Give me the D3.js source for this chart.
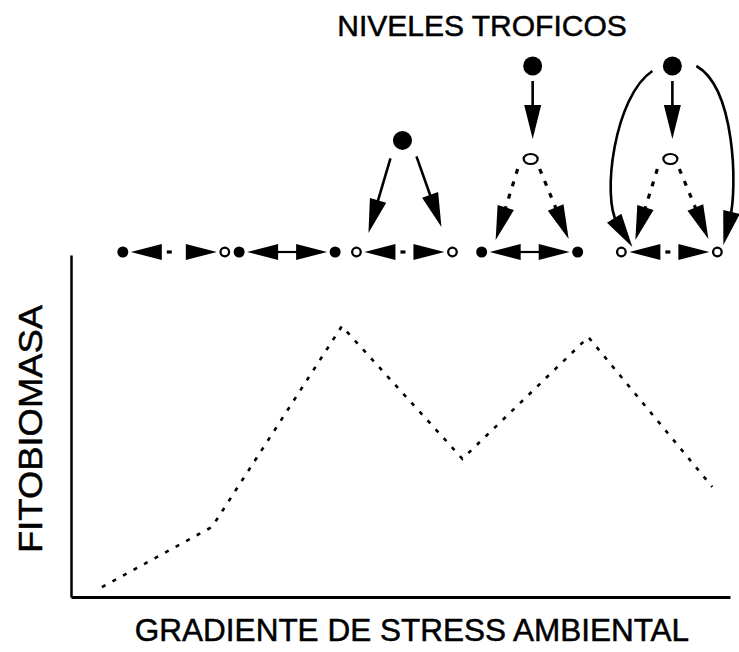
<!DOCTYPE html>
<html>
<head>
<meta charset="utf-8">
<script src="https://cdn.jsdelivr.net/npm/d3@7/dist/d3.min.js"></script>
<style>
  html, body { margin: 0; padding: 0; background: #fff; }
  text { font-family: "Liberation Sans", Arial, sans-serif; fill: #000; stroke: #000; stroke-width: 0.5px; }
</style>
</head>
<body>
<div id="chart"></div>
<script>
// ---------------- data ----------------
// curva de fitobiomasa a lo largo del gradiente (0-100 en ambos ejes)
const gradientX = [4.7, 21.4, 41.1, 59.4, 78.5, 97.3];
const biomassY  = [2.9, 20.5, 79.2, 40.4, 76.0, 32.2];

// etapas de la red trofica sobre el grafico
const stageX        = [15.6, 32.8, 50.6, 69.6, 90.8];
const plantLeft     = ['filled', 'filled', 'open', 'filled', 'open'];
const plantRight    = ['open', 'filled', 'open', 'filled', 'open'];
const plantLink     = ['weak', 'strong', 'weak', 'strong', 'weak'];
const trophicLevels = [1, 1, 2, 3, 3];

const titleText  = 'NIVELES TROFICOS';
const xAxisLabel = 'GRADIENTE DE STRESS AMBIENTAL';
const yAxisLabel = 'FITOBIOMASA';

// ---------------- layout ----------------
const W = 739, H = 652;
const svg = d3.select('#chart').append('svg')
  .attr('width', W).attr('height', H);

const x = d3.scaleLinear().domain([0, 100]).range([71, 730]);
const y = d3.scaleLinear().domain([0, 100]).range([597, 255]);
const levelY = d3.scaleLinear().domain([1, 3]).range([252, 66]);

// ejes (solo lineas, sin marcas)
const axisX = d3.axisBottom(x).tickValues([]).tickSizeOuter(0);
const axisY = d3.axisLeft(y).tickValues([]).tickSizeOuter(0);
svg.append('g').attr('transform', `translate(0,${y(0)})`).call(axisX)
  .select('.domain').attr('stroke', '#000').attr('stroke-width', 3);
svg.append('g').attr('transform', `translate(${x(0)},0)`).call(axisY)
  .select('.domain').attr('stroke', '#000').attr('stroke-width', 2.5);

// curva punteada
const line = d3.line().x(d => x(d[0])).y(d => y(d[1]));
svg.append('path')
  .datum(d3.zip(gradientX, biomassY))
  .attr('d', line)
  .attr('fill', 'none')
  .attr('stroke', '#000')
  .attr('stroke-width', 2.6)
  .attr('stroke-dasharray', '4 8');

// textos
svg.append('text').attr('x', 482).attr('y', 36)
  .attr('text-anchor', 'middle').style('font-size', '30px').text(titleText);
svg.append('text').attr('x', 412).attr('y', 641)
  .attr('text-anchor', 'middle').style('font-size', '31.5px').text(xAxisLabel);
svg.append('text')
  .attr('transform', 'translate(42,429) rotate(-90)')
  .attr('text-anchor', 'middle').style('font-size', '34px')
  .attr('textLength', 248).attr('lengthAdjust', 'spacingAndGlyphs')
  .text(yAxisLabel);

// ---------------- red trofica ----------------
const g = svg.append('g');

function head(tx, ty, ang, len = 32, hw = 8) {
  // triangulo con la punta en (tx,ty) apuntando en direccion ang
  const bx = tx - Math.cos(ang) * len, by = ty - Math.sin(ang) * len;
  const px = -Math.sin(ang) * hw, py = Math.cos(ang) * hw;
  g.append('path')
    .attr('d', `M${tx},${ty}L${bx + px},${by + py}L${bx - px},${by - py}Z`)
    .attr('fill', '#000');
}

function arrow(x1, y1, x2, y2, dashed) {
  const ang = Math.atan2(y2 - y1, x2 - x1);
  const len = 34;
  g.append('line')
    .attr('x1', x1).attr('y1', y1)
    .attr('x2', x2 - Math.cos(ang) * (len - 4)).attr('y2', y2 - Math.sin(ang) * (len - 4))
    .attr('stroke', '#000')
    .attr('stroke-width', dashed ? 3.2 : 2.6)
    .attr('stroke-dasharray', dashed ? '5 8' : null);
  head(x2, y2, ang, len, 8.5);
}

function node(cx, cy, type, r) {
  g.append('circle')
    .attr('cx', cx).attr('cy', cy).attr('r', r)
    .attr('fill', type === 'filled' ? '#000' : '#fff')
    .attr('stroke', '#000')
    .attr('stroke-width', type === 'filled' ? 0 : 2.3);
}

const half = 48;
stageX.forEach((sx, i) => {
  const cx = x(sx);
  const by = levelY(1);
  const w = i === 0 ? half + 3 : half;
  const lx = cx - w, rx = cx + w;

  // enlace horizontal entre productores
  head(lx + 8, by, Math.PI, 31, 8);
  head(rx - 8, by, 0, 31, 8);
  if (plantLink[i] === 'strong') {
    g.append('line')
      .attr('x1', lx + 36).attr('x2', rx - 36).attr('y1', by).attr('y2', by)
      .attr('stroke', '#000').attr('stroke-width', 2.2);
  } else {
    g.append('line')
      .attr('x1', lx + 44).attr('x2', lx + 49).attr('y1', by).attr('y2', by)
      .attr('stroke', '#000').attr('stroke-width', 3.2);
  }
  node(lx, by, plantLeft[i], plantLeft[i] === 'filled' ? 5.5 : 4.3);
  node(rx, by, plantRight[i], plantRight[i] === 'filled' ? 5.5 : 4.3);

  const lv = trophicLevels[i];
  if (lv === 2) {
    // depredador directo sobre productores
    const ty = levelY(2.2);
    arrow(cx - 14, ty + 18, lx + 12, by - 19, false);
    arrow(cx + 12, ty + 16, rx - 11, by - 25, false);
    node(cx - 2, ty, 'filled', 9.5);
  }
  if (lv === 3) {
    const ty = levelY(3), my = levelY(2);
    arrow(cx + 3, ty + 15, cx + 3, my - 20, false);
    arrow(cx - 12, my + 10, lx + 14, by - 12, true);
    arrow(cx + 10, my + 10, rx - 9, by - 13, true);
    g.append('ellipse')
      .attr('cx', cx + 1).attr('cy', my).attr('rx', 7).attr('ry', 5)
      .attr('fill', '#fff').attr('stroke', '#000').attr('stroke-width', 2.2);
    if (i === 4) {
      // omnivoria: el depredador tope come productores
      const lc = [[cx - 17, ty + 5], [cx - 55, ty + 30], [cx - 68, ty + 132], [lx + 11, by - 5]];
      const rc = [[cx + 27, ty], [cx + 66, ty + 22], [cx + 68, ty + 122], [rx + 6, by - 7]];
      [lc, rc].forEach(c => {
        const ang = Math.atan2(c[3][1] - c[2][1], c[3][0] - c[2][0]);
        const p = d3.path();
        p.moveTo(c[0][0], c[0][1]);
        p.bezierCurveTo(c[1][0], c[1][1], c[2][0], c[2][1],
          c[3][0] - Math.cos(ang) * 28, c[3][1] - Math.sin(ang) * 28);
        g.append('path').attr('d', p.toString())
          .attr('fill', 'none').attr('stroke', '#000').attr('stroke-width', 2.6);
        head(c[3][0], c[3][1], ang, 34, 8.5);
      });
    }
    node(cx + 3, ty, 'filled', 9.5);
  }
});
</script>
</body>
</html>
